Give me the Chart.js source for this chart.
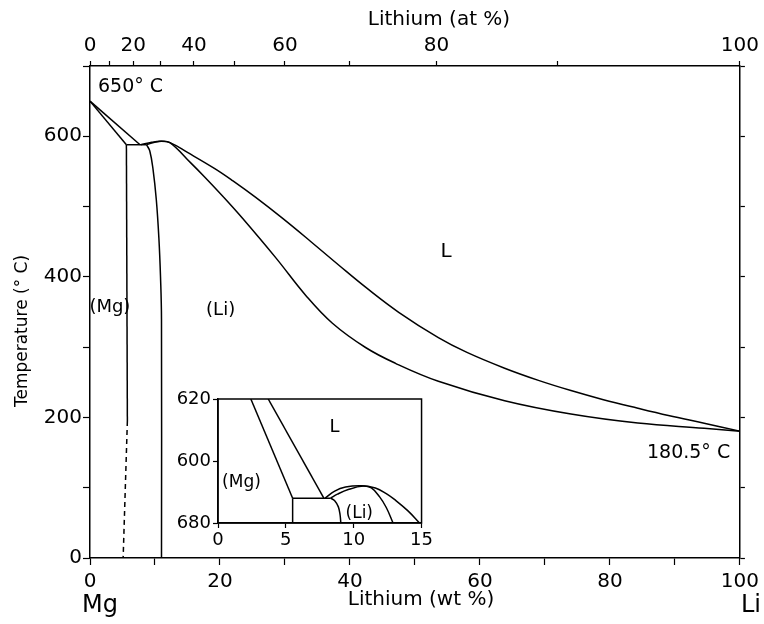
<!DOCTYPE html>
<html>
<head>
<meta charset="utf-8">
<script src="https://cdn.jsdelivr.net/npm/chart.js@4.4.1/dist/chart.umd.min.js"></script>
<style>
  body { margin: 0; background: #fff; }
  #wrap { position: relative; width: 764px; height: 624px; }
  #main { position: absolute; left: 0; top: 0; }
  #inset { position: absolute; left: 160px; top: 385px; }
</style>
</head>
<body>
<div id="wrap">
  <canvas id="main" width="764" height="624"></canvas>
  <canvas id="inset" width="275" height="165"></canvas>
</div>
<script>
// Mg-Li phase diagram: [wt% Li, temperature in C]
const mgLiquidus = [[0, 650], [7.7, 588]];
const mgSolidus = [[0, 650], [5.6, 588]];
const eutectic = [[5.6, 588], [8.7, 588]];
const mgSolvus = [[5.6, 588], [5.75, 195]];
const mgSolvusDashed = [[5.75, 195], [5.1, 0]];
const liSolvus = [[8.7, 588], [9.2, 579], [9.7, 553], [10.2, 510], [10.6, 455], [10.85, 400], [11.0, 340], [11.0, 0]];
const liLiquidus = [[7.8, 588], [9.5, 591.5], [10.8, 593], [12.3, 591], [15, 577], [19.2, 554], [22, 536.5],
  [25.5, 513], [29.6, 483.5], [34, 450], [38.3, 416.5], [42.4, 385.3], [47.5, 349.6], [53.6, 313.6], [58, 292.5],
  [63.8, 270], [69, 252.7], [74, 238.2], [79, 225.2], [84.3, 213], [89, 202.7], [94.5, 191.7], [100, 180.5]];
const liSolidus = [[8.7, 588], [9.8, 591], [11.0, 593], [12.3, 591], [15.5, 562.2], [17.6, 542.5], [20.5, 514],
  [23.5, 483], [28.6, 427], [33.2, 373.6], [37.3, 334], [42.4, 299.5], [47, 277], [53.6, 251.5],
  [63.8, 223.7], [74, 204.8], [84.3, 192], [94.5, 184.7], [100, 180.5]];

// inset, 580-620 C
const insetMgLiquidus = [[3.7, 620], [7.8, 588]];
const insetMgSolidus = [[2.42, 620], [5.5, 588]];
const insetMgSolvus = [[5.5, 588], [5.5, 580]];
const insetEutectic = [[5.5, 588], [8.3, 588]];
const insetLiSolvus = [[8.3, 588], [8.6, 587.2], [8.87, 585.2], [9.0, 582.5], [9.05, 580]];
const insetLiLiquidus = [[7.9, 588], [8.6, 590.3], [9.4, 591.6], [10.6, 592], [11.6, 591.3], [12.4, 589.5],
  [13.0, 587.6], [14.0, 583.9], [14.85, 580]];
const insetLiSolidus = [[8.3, 588], [8.8, 589.3], [9.6, 590.8], [10.7, 591.9], [11.3, 591.3], [11.9, 588.5],
  [12.4, 585], [12.9, 580]];

// tick labels
const atTicks = [0, 10, 20, 30, 40, 50, 60, 70, 80, 90, 100];
const atLabels = ['0', '', '20', '', '40', '', '60', '', '80', '', '100'];
const insetTempTicks = [580, 600, 620];
const insetTempLabels = ['680', '600', '620'];

// region labels [text, wt%, C]
const mainLabels = [['(Mg)', 3.06, 356], ['(Li)', 20.1, 353], ['L', 54.8, 436]];
const insetLabels = [['L', 8.58, 611], ['(Mg)', 1.73, 592.9], ['(Li)', 10.41, 583]];

const ink = '#000';
const family = 'DejaVu Sans';
const MG = 24.305, LI = 6.941;
const atToWt = a => 100 * a * LI / (a * LI + (100 - a) * MG);

function line(pts, extra) {
  return Object.assign({
    data: pts.map(p => ({ x: p[0], y: p[1] })),
    showLine: true, borderColor: ink, borderWidth: 1.5,
    pointRadius: 0, tension: 0, fill: false
  }, extra);
}

function text(ctx, str, x, y, size, align, rot) {
  ctx.save();
  ctx.font = size + 'px "' + family + '"';
  ctx.fillStyle = ink;
  ctx.textAlign = align || 'center';
  ctx.textBaseline = 'middle';
  ctx.translate(x, y);
  if (rot) ctx.rotate(rot);
  ctx.fillText(str, 0, 0);
  ctx.restore();
}

const axisGrid = { drawOnChartArea: false, tickLength: 7, tickColor: ink, tickWidth: 1.2 };
const axisBorder = { color: ink, width: 1.5 };

const mainText = {
  id: 'mainText',
  afterDraw(chart) {
    const ctx = chart.ctx, sx = chart.scales.x, sy = chart.scales.y;
    text(ctx, 'Lithium (at %)', 439, 20, 20);
    text(ctx, 'Lithium (wt %)', 421, 600, 20);
    text(ctx, 'Mg', 100, 606, 24);
    text(ctx, 'Li', 751, 606, 24);
    text(ctx, 'Temperature (° C)', 23, 331, 17, 'center', -Math.PI / 2);
    text(ctx, '650° C', sx.getPixelForValue(1.23), sy.getPixelForValue(669.5), 19, 'left');
    text(ctx, '180.5° C', sx.getPixelForValue(98.5), sy.getPixelForValue(149), 19, 'right');
    mainLabels.forEach(l => text(ctx, l[0], sx.getPixelForValue(l[1]), sy.getPixelForValue(l[2]), l[0] === 'L' ? 20 : 18));
  }
};

new Chart(document.getElementById('main'), {
  type: 'scatter',
  data: {
    datasets: [
      line(mgLiquidus), line(mgSolidus), line(eutectic), line(mgSolvus),
      line(mgSolvusDashed, { borderDash: [5, 4] }),
      line(liSolvus, { tension: 0.4 }),
      line(liLiquidus, { tension: 0.4 }),
      line(liSolidus, { tension: 0.4 })
    ]
  },
  options: {
    responsive: false, animation: false,
    layout: { padding: 0 },
    plugins: { legend: { display: false }, tooltip: { enabled: false } },
    scales: {
      x: {
        position: 'bottom', min: 0, max: 100,
        ticks: { stepSize: 10, autoSkip: false, maxRotation: 0, padding: 5, color: ink,
          font: { family, size: 20 }, callback: v => (v % 20 === 0 ? v : '') },
        grid: axisGrid, border: axisBorder,
        afterFit: s => { s.height = 66; }
      },
      xTop: {
        position: 'top', min: 0, max: 100,
        afterBuildTicks: s => { s.ticks = atTicks.map(a => ({ value: atToWt(a) })); },
        ticks: { autoSkip: false, maxRotation: 0, padding: 3, color: ink,
          font: { family, size: 20 }, callback: (v, i) => atLabels[i] },
        grid: Object.assign({}, axisGrid, { tickLength: 5 }), border: axisBorder,
        afterFit: s => { s.height = 66; }
      },
      y: {
        position: 'left', min: 0, max: 700,
        ticks: { stepSize: 100, padding: 1, color: ink,
          font: { family, size: 20 }, callback: v => (v % 200 === 0 ? v : '') },
        grid: axisGrid, border: axisBorder,
        afterFit: s => { s.width = 90; }
      },
      yRight: {
        position: 'right', min: 0, max: 700,
        ticks: { stepSize: 100, display: false },
        grid: Object.assign({}, axisGrid, { tickLength: 5 }), border: axisBorder,
        afterFit: s => { s.width = 21; }
      }
    }
  },
  plugins: [mainText]
});

const insetText = {
  id: 'insetText',
  afterDraw(chart) {
    const ctx = chart.ctx, a = chart.chartArea, sx = chart.scales.x, sy = chart.scales.y;
    ctx.save();
    ctx.strokeStyle = ink;
    ctx.lineWidth = 1.5;
    ctx.strokeRect(a.left, a.top, a.right - a.left, a.bottom - a.top);
    ctx.restore();
    insetLabels.forEach(l => text(ctx, l[0], sx.getPixelForValue(l[1]), sy.getPixelForValue(l[2]), l[0] === 'L' ? 18 : 17));
  }
};

new Chart(document.getElementById('inset'), {
  type: 'scatter',
  data: {
    datasets: [
      line(insetMgLiquidus), line(insetMgSolidus), line(insetMgSolvus), line(insetEutectic),
      line(insetLiSolvus, { tension: 0.4 }),
      line(insetLiLiquidus, { tension: 0.4 }),
      line(insetLiSolidus, { tension: 0.4 })
    ]
  },
  options: {
    responsive: false, animation: false,
    layout: { padding: { top: 14, right: 11, left: 0, bottom: 0 } },
    plugins: { legend: { display: false }, tooltip: { enabled: false } },
    scales: {
      x: {
        min: 0, max: 15,
        ticks: { stepSize: 5, autoSkip: false, maxRotation: 0, padding: 2, color: ink, font: { family, size: 18 } },
        grid: Object.assign({}, axisGrid, { tickLength: 5 }), border: axisBorder,
        afterFit: s => { s.height = 27; }
      },
      y: {
        min: 580, max: 620,
        afterBuildTicks: s => { s.ticks = insetTempTicks.map(t => ({ value: t })); },
        ticks: { padding: 2, color: ink, font: { family, size: 18 }, callback: (v, i) => insetTempLabels[i] },
        grid: Object.assign({}, axisGrid, { tickLength: 5 }), border: axisBorder,
        afterFit: s => { s.width = 58; }
      }
    }
  },
  plugins: [insetText]
});
</script>
</body>
</html>
